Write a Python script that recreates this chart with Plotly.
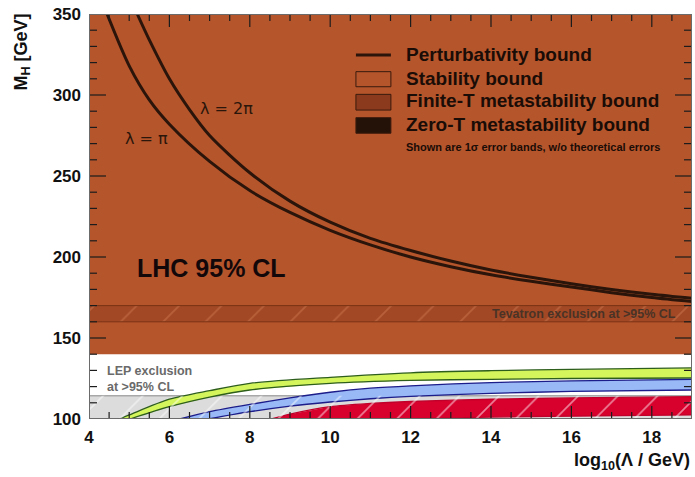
import plotly.graph_objects as go

# ---------------- data ----------------
X_RANGE = [4, 19]
Y_RANGE = [100, 350]
X_MAJOR = [4, 6, 8, 10, 12, 14, 16, 18]
Y_MAJOR = [100, 150, 200, 250, 300, 350]
X_MINOR = [4 + 0.5 * i for i in range(1, 30) if (4 + 0.5 * i) not in X_MAJOR]
Y_MINOR = [100 + 10 * i for i in range(1, 25) if (100 + 10 * i) not in Y_MAJOR]

# stability (orange) region and exclusion bands
STAB_LOW, STAB_HIGH = 140, 350
TEV_LOW, TEV_HIGH = 160, 170
LEP_LOW, LEP_HIGH = 100, 114.3

# perturbativity bounds
PI_X = [4.45, 5.0, 5.5, 6.0, 7.0, 8.0, 9.0, 10.0, 11.0, 12.0, 13.0, 14.0, 15.0, 16.0, 17.0, 18.0, 19.0]
PI_Y = [350, 318, 297, 282, 259, 241, 227.5, 216.5, 207.5, 200, 194, 189, 185, 181.5, 178, 175, 172.5]
TWOPI_X = [5.2, 5.5, 6.0, 6.5, 7.0, 8.0, 9.0, 10.0, 11.0, 12.0, 13.0, 14.0, 15.0, 16.0, 17.0, 18.0, 19.0]
TWOPI_Y = [350, 334, 310, 291, 275, 252, 234.5, 221.5, 211.5, 204, 197.5, 192, 187.5, 183.5, 180, 177, 174.5]

# 1-sigma bands (upper / lower edges)
GREEN_UP_X = [4.75, 5.0, 6.0, 7.0, 8.0, 10.0, 12.0, 14.0, 16.0, 19.0]
GREEN_UP_Y = [100, 102.5, 112.2, 117.5, 122, 125.7, 128.5, 129.8, 130.6, 131.5]
GREEN_LO_X = [5.02, 6.0, 7.0, 8.0, 10.0, 12.0, 14.0, 16.0, 19.0]
GREEN_LO_Y = [100, 107.6, 113.5, 117.9, 122, 123.8, 124.5, 125.0, 125.3]

BLUE_UP_X = [6.26, 7.0, 8.0, 9.0, 10.0, 11.0, 12.0, 14.0, 16.0, 19.0]
BLUE_UP_Y = [100, 104.5, 109, 113, 116.5, 119, 120.5, 122.5, 123.5, 124.4]
BLUE_LO_X = [6.97, 8.0, 9.0, 10.0, 11.0, 12.0, 14.0, 16.0, 19.0]
BLUE_LO_Y = [100, 104.5, 108, 110.5, 112.5, 114, 115.8, 117, 117.9]

RED_UP_X = [8.54, 9.0, 10.0, 11.0, 12.0, 14.0, 16.0, 19.0]
RED_UP_Y = [100, 103, 107.6, 109.6, 110.8, 112.2, 113, 113.8]
RED_LO_X = [11.8, 14.0, 16.0, 19.0]
RED_LO_Y = [100, 101.2, 101.8, 102.5]

# ---------------- style ----------------
ORANGE = "#B5552C"
CURVE = "#2B150B"
FONT = "Liberation Sans"
TICK_COL = "#1c1c1c"
WIDTH, HEIGHT = 695, 477
MARGIN = dict(l=89, r=3, t=14, b=58)

fig = go.Figure()


def band(xs0, xs1, y0, y1, **kw):
    fig.add_trace(go.Scatter(x=[xs0, xs1, xs1, xs0, xs0], y=[y0, y0, y1, y1, y0],
                             mode="lines", fill="toself", hoverinfo="skip",
                             showlegend=False, **kw))


# stability region
band(X_RANGE[0], X_RANGE[1], STAB_LOW, STAB_HIGH, fillcolor=ORANGE,
     line=dict(width=0))
# Tevatron exclusion
band(X_RANGE[0], X_RANGE[1], TEV_LOW, TEV_HIGH, fillcolor="#A24824",
     line=dict(width=1, color="#7A3314"),
     fillpattern=dict(shape="/", fgcolor="#B8603A", bgcolor="#A24824",
                      size=30, solidity=0.06, fillmode="replace"))
# LEP exclusion background
band(X_RANGE[0], X_RANGE[1], LEP_LOW, LEP_HIGH, fillcolor="#DCDCDC",
     line=dict(width=0))
fig.add_trace(go.Scatter(x=X_RANGE, y=[LEP_HIGH, LEP_HIGH], mode="lines",
                         line=dict(color="#A8A8A8", width=1.5),
                         hoverinfo="skip", showlegend=False))


def sigma_band(ux, uy, lx, ly, fill, edge):
    fig.add_trace(go.Scatter(x=ux + lx[::-1], y=uy + ly[::-1], mode="lines",
                             fill="toself", fillcolor=fill, line=dict(width=0),
                             hoverinfo="skip", showlegend=False))
    for xx, yy in ((ux, uy), (lx, ly)):
        fig.add_trace(go.Scatter(x=xx, y=yy, mode="lines",
                                 line=dict(color=edge, width=1.3, shape="spline",
                                           smoothing=0.8),
                                 hoverinfo="skip", showlegend=False))


sigma_band(GREEN_UP_X, GREEN_UP_Y, GREEN_LO_X, GREEN_LO_Y, "#D5F55C", "#2E5E1C")
sigma_band(BLUE_UP_X, BLUE_UP_Y, BLUE_LO_X, BLUE_LO_Y, "#98B9F6", "#1C1C8A")
sigma_band(RED_UP_X, RED_UP_Y, RED_LO_X, RED_LO_Y, "#D8002D", "#C0002A")

# LEP hatch overlay
band(X_RANGE[0], X_RANGE[1], LEP_LOW, LEP_HIGH, fillcolor="rgba(0,0,0,0)",
     line=dict(width=0),
     fillpattern=dict(shape="/", fgcolor="white", bgcolor="rgba(0,0,0,0)",
                      size=28, solidity=0.06, fillmode="overlay"))

# perturbativity curves
for xx, yy in ((PI_X, PI_Y), (TWOPI_X, TWOPI_Y)):
    fig.add_trace(go.Scatter(x=xx, y=yy, mode="lines",
                             line=dict(color=CURVE, width=3, shape="spline",
                                       smoothing=0.8),
                             hoverinfo="skip", showlegend=False))

# ---------------- inside ticks on all four sides, as a trace on top ----------
plot_w = WIDTH - MARGIN["l"] - MARGIN["r"]
plot_h = HEIGHT - MARGIN["t"] - MARGIN["b"]
x_per_px = (X_RANGE[1] - X_RANGE[0]) / plot_w
y_per_px = (Y_RANGE[1] - Y_RANGE[0]) / plot_h

tx, ty = [], []
for vals, px_len in ((X_MAJOR, 13), (X_MINOR, 7)):
    d = px_len * y_per_px
    for v in vals:
        tx += [v, v, None, v, v, None]
        ty += [Y_RANGE[0], Y_RANGE[0] + d, None, Y_RANGE[1], Y_RANGE[1] - d, None]
for vals, px_len in ((Y_MAJOR, 17), (Y_MINOR, 8)):
    d = px_len * x_per_px
    for v in vals:
        tx += [X_RANGE[0], X_RANGE[0] + d, None, X_RANGE[1], X_RANGE[1] - d, None]
        ty += [v, v, None, v, v, None]
fig.add_trace(go.Scatter(x=tx, y=ty, mode="lines", connectgaps=False,
                         line=dict(color=TICK_COL, width=1.2),
                         hoverinfo="skip", showlegend=False))

# frame
fig.add_trace(go.Scatter(x=[X_RANGE[0], X_RANGE[1], X_RANGE[1], X_RANGE[0], X_RANGE[0]],
                         y=[Y_RANGE[0], Y_RANGE[0], Y_RANGE[1], Y_RANGE[1], Y_RANGE[0]],
                         mode="lines", cliponaxis=False,
                         line=dict(color="#6b6b6b", width=2),
                         hoverinfo="skip", showlegend=False))

# ---------------- legend (drawn manually) ----------------
LEG_X0, LEG_X1 = 10.64, 11.51
fig.add_shape(type="line", x0=LEG_X0, x1=LEG_X1, y0=324.7, y1=324.7,
              line=dict(color=CURVE, width=3))
for (y0, y1, col) in ((305.1, 314.4, ORANGE), (290.7, 300.4, "#8C3A1D"),
                      (276.4, 286.0, "#241208")):
    fig.add_shape(type="rect", x0=LEG_X0, x1=LEG_X1, y0=y0, y1=y1,
                  fillcolor=col, line=dict(color="#3a1a0c", width=1))

LEG_TEXT = [("Perturbativity bound", 325.1), ("Stability bound", 310.3),
            ("Finite-T metastability bound", 296.3),
            ("Zero-T metastability bound", 281.9)]
for t, y in LEG_TEXT:
    fig.add_annotation(x=11.84, y=y, text=t, showarrow=False, xanchor="left",
                       yanchor="middle",
                       font=dict(family=FONT, size=19, color="#1a0c06", weight="bold"))
fig.add_annotation(x=11.84, y=268.1,
                   text="Shown are 1σ error bands, w/o theoretical errors",
                   showarrow=False, xanchor="left", yanchor="middle",
                   font=dict(family=FONT, size=11, color="#1a0c06", weight="bold"))

# in-plot labels
fig.add_annotation(x=5.43, y=273.3, text="λ = π", showarrow=False,
                   font=dict(family="DejaVu Sans", size=16, color="#2a160a"))
fig.add_annotation(x=7.42, y=291.8, text="λ = 2π", showarrow=False,
                   font=dict(family="DejaVu Sans", size=16, color="#2a160a"))
fig.add_annotation(x=5.15, y=193, text="LHC 95% CL", showarrow=False,
                   xanchor="left", yanchor="middle",
                   font=dict(family=FONT, size=25, color="#12080a", weight="bold"))
fig.add_annotation(x=18.65, y=164.8, text="Tevatron exclusion at >95% CL",
                   showarrow=False, xanchor="right", yanchor="middle",
                   font=dict(family=FONT, size=12.5, color="#4a3326", weight="bold"))
fig.add_annotation(x=4.4, y=124.7, text="LEP exclusion<br>at >95% CL",
                   showarrow=False, xanchor="left", yanchor="middle", align="left",
                   font=dict(family=FONT, size=12.5, color="#6a6a6a", weight="bold"))

# axis titles
fig.add_annotation(xref="paper", yref="paper", x=1.0, y=-0.106,
                   text="log<sub>10</sub>(Λ / GeV)", showarrow=False,
                   xanchor="right", yanchor="middle",
                   font=dict(family=FONT, size=18, color="#111", weight="bold"))
fig.add_annotation(xref="paper", yref="paper", x=-0.111, y=1.005,
                   text="M<sub>H</sub> [GeV]", showarrow=False, textangle=-90,
                   xanchor="center", yanchor="top",
                   font=dict(family=FONT, size=18, color="#111", weight="bold"))

TICKFONT = dict(family=FONT, size=17, color="#111", weight="bold")
fig.update_layout(
    template="none", width=WIDTH, height=HEIGHT, margin=MARGIN,
    paper_bgcolor="white", plot_bgcolor="white", showlegend=False,
    xaxis=dict(range=X_RANGE, tickmode="array", tickvals=X_MAJOR, ticks="",
               showline=False, showgrid=False, zeroline=False,
               tickfont=TICKFONT, ticklabelstandoff=6),
    yaxis=dict(range=Y_RANGE, tickmode="array", tickvals=Y_MAJOR, ticks="",
               showline=False, showgrid=False, zeroline=False,
               tickfont=TICKFONT, ticklabelstandoff=7),
)

fig.write_html("out.html")
